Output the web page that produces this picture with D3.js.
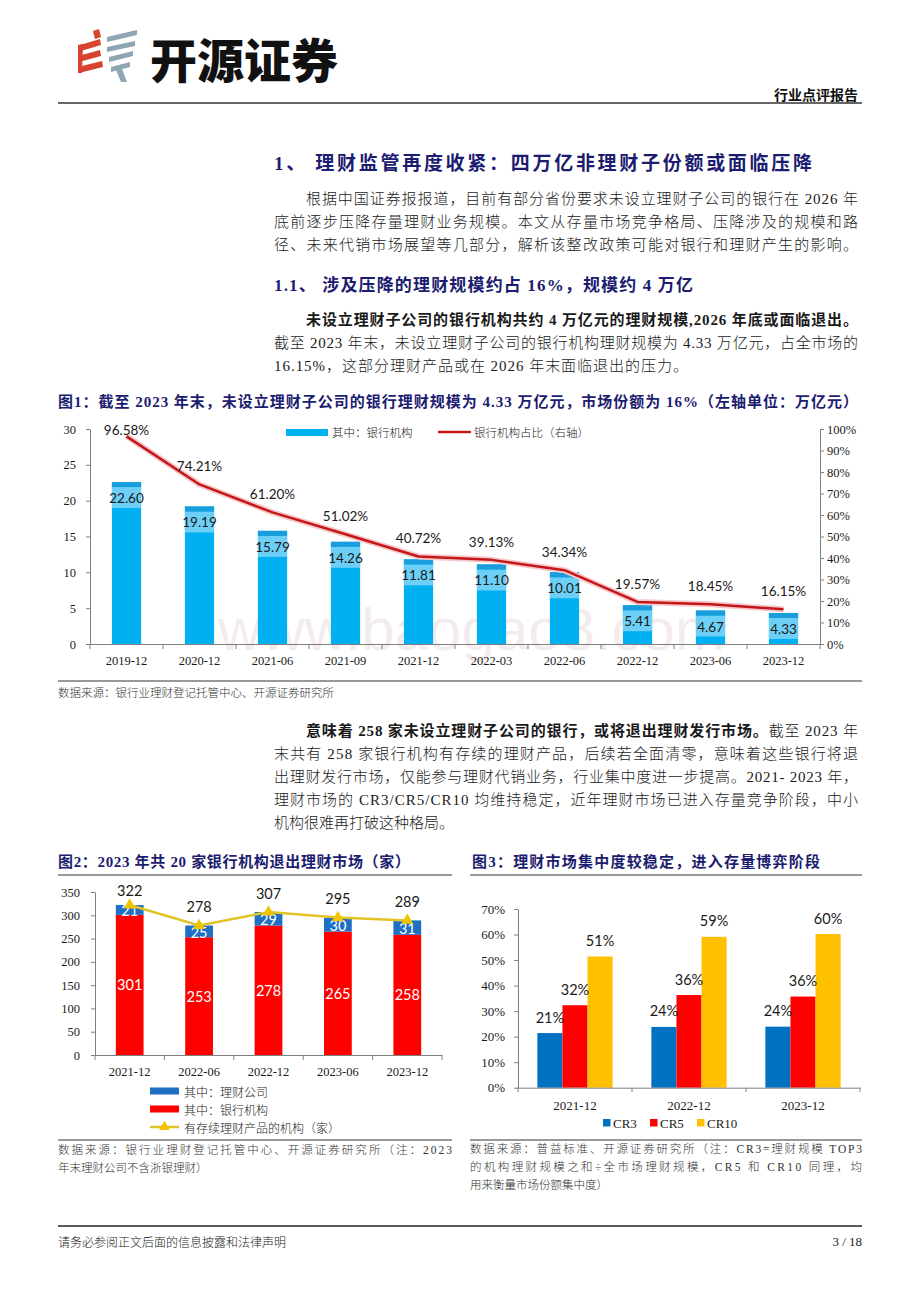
<!DOCTYPE html>
<html><head><meta charset="utf-8">
<script src="https://cdn.jsdelivr.net/npm/d3@7/dist/d3.min.js"></script>
<style>html,body{margin:0;padding:0;background:#fff;} svg{display:block}</style>
</head><body>
<svg id="page" width="920" height="1302"></svg>
<script>
// ---------------- DATA ----------------
const c1Categories = ["2019-12","2020-12","2021-06","2021-09","2021-12","2022-03","2022-06","2022-12","2023-06","2023-12"];
const c1BankScale = [22.60,19.19,15.79,14.26,11.81,11.10,10.01,5.41,4.67,4.33];
const c1BankShare = [96.58,74.21,61.20,51.02,40.72,39.13,34.34,19.57,18.45,16.15];
const c1LeftTicks = [0,5,10,15,20,25,30];
const c1RightTicks = [0,10,20,30,40,50,60,70,80,90,100];
const c1Legend = ["其中：银行机构","银行机构占比（右轴）"];

const c2Categories = ["2021-12","2022-06","2022-12","2023-06","2023-12"];
const c2Banks = [301,253,278,265,258];
const c2Companies = [21,25,29,30,31];
const c2Totals = [322,278,307,295,289];
const c2Ticks = [0,50,100,150,200,250,300,350];
const c2Legend = ["其中：理财公司","其中：银行机构","有存续理财产品的机构（家）"];

const c3Categories = ["2021-12","2022-12","2023-12"];
const c3Series = ["CR3","CR5","CR10"];
const c3CR3 = [21.4,23.8,23.9];
const c3CR5 = [32.3,36.3,35.7];
const c3CR10 = [51.4,59.1,60.2];
const c3Ticks = [0,10,20,30,40,50,60,70];

// ---------------- STYLE ----------------
const SERIF = "'Liberation Serif','Noto Sans CJK SC',serif";
const CJK = "'Noto Sans CJK SC',sans-serif";
const LBL = "Lato,'Open Sans',sans-serif";
const NAVY = "#1c1c70";

const svg = d3.select("#page");

function txt(x, y, s, o = {}) {
  const t = svg.append("text").attr("x", x).attr("y", y).text(s)
    .attr("dominant-baseline", "central")
    .attr("font-family", o.family || SERIF)
    .attr("font-size", o.size || 15)
    .attr("font-weight", o.weight || 400)
    .attr("fill", o.fill || "#1a1a1a")
    .attr("text-anchor", o.anchor || "start");
  if (o.len) t.attr("textLength", o.len).attr("lengthAdjust", "spacing");
  return t;
}
function hline(x1, x2, y, color, w) {
  svg.append("line").attr("x1", x1).attr("x2", x2).attr("y1", y).attr("y2", y)
    .attr("stroke", color).attr("stroke-width", w);
}

// ---------------- HEADER ----------------
const logo = svg.append("g");
const red = [
  [[93,31],[99,29],[101,37],[95,39]],
  [[80,45],[100,39],[101,45],[81,51]],
  [[78,56],[100,50],[101,56],[79,62]],
  [[78,67],[102,61],[103,67],[79,73]],
  [[78,45],[83,44],[82,73],[78,73]]
];
const gray = [
  [[107,37],[137,30],[137,35],[107,42]],
  [[107,47],[135,41],[135,46],[107,52]],
  [[109,57],[133,51],[133,56],[109,62]],
  [[111,67],[130,62],[130,67],[111,72]],
  [[116,70],[122,69],[127,82],[121,82]]
];
logo.selectAll(".r").data(red).join("polygon").attr("points", d => d.join(" ")).attr("fill", "#d8432f");
logo.selectAll(".g").data(gray).join("polygon").attr("points", d => d.join(" ")).attr("fill", "#8ea5b4");
txt(150, 57, "开源证券", {family: CJK, size: 47, weight: 900, fill: "#111", len: 188});
txt(858, 94, "行业点评报告", {family: CJK, size: 14, weight: 700, anchor: "end", fill: "#111"});
hline(58, 862, 103, "#333", 1.5);

// ---------------- BODY TEXT ----------------
txt(274, 163, "1、 理财监管再度收紧：四万亿非理财子份额或面临压降", {family: SERIF, size: 19, weight: 700, fill: NAVY, len: 538});
txt(306, 199, "根据中国证券报报道，目前有部分省份要求未设立理财子公司的银行在 2026 年", {weight: 300, len: 552});
txt(274, 222, "底前逐步压降存量理财业务规模。本文从存量市场竞争格局、压降涉及的规模和路", {weight: 300, len: 584});
txt(274, 245, "径、未来代销市场展望等几部分，解析该整改政策可能对银行和理财产生的影响。", {weight: 300, len: 584});
txt(274, 285, "1.1、 涉及压降的理财规模约占 16%，规模约 4 万亿", {size: 17, weight: 700, fill: NAVY, len: 419});
txt(306, 320, "未设立理财子公司的银行机构共约 4 万亿元的理财规模,2026 年底或面临退出。", {weight: 700, len: 552});
txt(274, 343, "截至 2023 年末，未设立理财子公司的银行机构理财规模为 4.33 万亿元，占全市场的", {weight: 300, len: 584});
txt(274, 366, "16.15%，这部分理财产品或在 2026 年末面临退出的压力。", {weight: 300, len: 414});

// P3
const p3 = txt(306, 731, "", {len: 552});
p3.append("tspan").attr("font-weight", 700).text("意味着 258 家未设立理财子公司的银行，或将退出理财发行市场。");
p3.append("tspan").attr("font-weight", 300).text("截至 2023 年");
txt(274, 754, "末共有 258 家银行机构有存续的理财产品，后续若全面清零，意味着这些银行将退", {weight: 300, len: 584});
txt(274, 777, "出理财发行市场，仅能参与理财代销业务，行业集中度进一步提高。2021- 2023 年，", {weight: 300, len: 584});
txt(274, 800, "理财市场的 CR3/CR5/CR10 均维持稳定，近年理财市场已进入存量竞争阶段，中小", {weight: 300, len: 584});
txt(274, 823, "机构很难再打破这种格局。", {weight: 300});

// ---------------- CHART 1 ----------------
txt(58, 402, "图1：截至 2023 年末，未设立理财子公司的银行理财规模为 4.33 万亿元，市场份额为 16%（左轴单位：万亿元）", {size: 15, weight: 700, fill: NAVY, len: 800});
hline(58, 862, 681, "#999", 2);
txt(58, 692, "数据来源：银行业理财登记托管中心、开源证券研究所", {family: CJK, size: 11.5, weight: 300, fill: "#333"});

// watermark (behind labels, drawn first)
svg.append("text").attr("x", 218).attr("y", 650).attr("font-family", "'Liberation Sans',Arial,sans-serif")
  .attr("font-size", 60).attr("fill", "rgba(170,110,110,0.13)").text("www.baogao8.com");

const g1 = svg.append("g");
const x1 = d3.scaleBand().domain(c1Categories).range([90, 820]).paddingInner(0.6).paddingOuter(0.3);
const yL = d3.scaleLinear().domain([0, 30]).range([644, 429]);
const yR = d3.scaleLinear().domain([0, 100]).range([644, 429]);
const c1 = c1Categories.map((c, i) => ({c, v: c1BankScale[i], p: c1BankShare[i]}));

// bars
const bars1 = g1.selectAll(".b1").data(c1).join("g");
bars1.append("rect").attr("x", d => x1(d.c)).attr("width", x1.bandwidth())
  .attr("y", d => yL(d.v)).attr("height", d => yL(0) - yL(d.v)).attr("fill", "#00b0f0");
bars1.append("rect").attr("x", d => x1(d.c)).attr("width", x1.bandwidth())
  .attr("y", d => yL(d.v) + 5).attr("height", 21).attr("fill", "#6dcff5");
bars1.append("rect").attr("x", d => x1(d.c)).attr("width", x1.bandwidth())
  .attr("y", d => yL(d.v)).attr("height", 5).attr("fill", "#1a9ddd");
bars1.append("text").attr("x", d => x1(d.c) + x1.bandwidth() / 2).attr("y", d => yL(d.v) + 16)
  .attr("text-anchor", "middle").attr("dominant-baseline", "central")
  .attr("font-family", LBL).attr("font-size", 13.5).attr("fill", "#1a1a1a")
  .text(d => d.v.toFixed(2));

// line
const line1 = d3.line().x(d => x1(d.c) + x1.bandwidth() / 2).y(d => yR(d.p));
g1.append("path").datum(c1).attr("d", line1).attr("fill", "none").attr("stroke", "#f6c8cc").attr("stroke-width", 6).attr("stroke-linejoin", "round");
g1.append("path").datum(c1).attr("d", line1).attr("fill", "none").attr("stroke", "#c41818").attr("stroke-width", 2.5).attr("stroke-linejoin", "round");
g1.selectAll(".pl").data(c1).join("text")
  .attr("x", d => x1(d.c) + x1.bandwidth() / 2).attr("y", d => Math.max(yR(d.p) - 18, 430))
  .attr("text-anchor", "middle").attr("dominant-baseline", "central")
  .attr("font-family", LBL).attr("font-size", 13.5).attr("fill", "#1a1a1a")
  .text(d => d.p.toFixed(2) + "%");

// axes
function styleAxis(sel, size) {
  sel.selectAll("path,line").attr("stroke", "#7f7f7f");
  sel.selectAll("text").attr("font-family", SERIF).attr("font-size", size).attr("fill", "#1a1a1a");
}
g1.append("g").attr("transform", "translate(90,0)")
  .call(d3.axisLeft(yL).tickValues(c1LeftTicks).tickSize(4).tickSizeOuter(0).tickPadding(10))
  .call(s => styleAxis(s, 12.5));
g1.append("g").attr("transform", "translate(820,0)")
  .call(d3.axisRight(yR).tickValues(c1RightTicks).tickSize(4).tickSizeOuter(0).tickPadding(3).tickFormat(d => d + "%"))
  .call(s => styleAxis(s, 12.5));
g1.append("g").attr("transform", "translate(0,644)")
  .call(d3.axisBottom(x1).tickSize(0).tickSizeOuter(0).tickPadding(12))
  .call(s => styleAxis(s, 12.5));
const b1 = c1Categories.map(c => x1(c) - x1.step() * x1.paddingInner() / 2).concat([820]);
g1.selectAll(".bt").data(b1).join("line").attr("x1", d => d).attr("x2", d => d)
  .attr("y1", 644).attr("y2", 649).attr("stroke", "#7f7f7f");

// legend
g1.append("rect").attr("x", 286).attr("y", 429).attr("width", 42).attr("height", 7).attr("fill", "#00b0f0");
g1.append("text").attr("x", 332).attr("y", 432).attr("dominant-baseline", "central").attr("font-family", CJK).attr("font-weight", 300).attr("font-size", 11.5).attr("fill", "#1a1a1a").text(c1Legend[0]);
g1.append("line").attr("x1", 438).attr("x2", 471).attr("y1", 432).attr("y2", 432).attr("stroke", "#c41818").attr("stroke-width", 2.5);
g1.append("text").attr("x", 474).attr("y", 432).attr("dominant-baseline", "central").attr("font-family", CJK).attr("font-weight", 300).attr("font-size", 11.5).attr("fill", "#1a1a1a").text(c1Legend[1]);

// ---------------- CHART 2 ----------------
txt(58, 862, "图2：2023 年共 20 家银行机构退出理财市场（家）", {size: 15, weight: 700, fill: NAVY, len: 352});
hline(58, 452, 875, "#999", 2);
const g2 = svg.append("g");
const x2 = d3.scaleBand().domain(c2Categories).range([95, 442]).paddingInner(0.6).paddingOuter(0.3);
const y2 = d3.scaleLinear().domain([0, 350]).range([1055, 892]);
const c2 = c2Categories.map((c, i) => ({c, b: c2Banks[i], f: c2Companies[i], t: c2Totals[i]}));
g2.selectAll(".rb").data(c2).join("rect").attr("x", d => x2(d.c)).attr("width", x2.bandwidth())
  .attr("y", d => y2(d.b)).attr("height", d => y2(0) - y2(d.b)).attr("fill", "#ff0000");
g2.selectAll(".bb").data(c2).join("rect").attr("x", d => x2(d.c)).attr("width", x2.bandwidth())
  .attr("y", d => y2(d.b + d.f)).attr("height", d => y2(d.b) - y2(d.b + d.f)).attr("fill", "#1f6fc5");
g2.selectAll(".rl").data(c2).join("text").attr("x", d => x2(d.c) + x2.bandwidth() / 2)
  .attr("y", d => (y2(0) + y2(d.b)) / 2).attr("text-anchor", "middle").attr("dominant-baseline", "central")
  .attr("font-family", LBL).attr("font-size", 14.5).attr("fill", "#fff").text(d => d.b);
g2.selectAll(".bl").data(c2).join("text").attr("x", d => x2(d.c) + x2.bandwidth() / 2)
  .attr("y", d => (y2(d.b) + y2(d.b + d.f)) / 2 + 1).attr("text-anchor", "middle").attr("dominant-baseline", "central")
  .attr("font-family", LBL).attr("font-size", 14.5).attr("fill", "#fff").text(d => d.f);
const line2 = d3.line().x(d => x2(d.c) + x2.bandwidth() / 2).y(d => y2(d.t));
g2.append("path").datum(c2).attr("d", line2).attr("fill", "none").attr("stroke", "#e0c423").attr("stroke-width", 2.5);
g2.selectAll(".mk").data(c2).join("path").attr("d", d3.symbol(d3.symbolTriangle, 60))
  .attr("transform", d => `translate(${x2(d.c) + x2.bandwidth() / 2},${y2(d.t)})`).attr("fill", "#f2c400");
g2.selectAll(".tl").data(c2).join("text").attr("x", d => x2(d.c) + x2.bandwidth() / 2)
  .attr("y", d => Math.max(y2(d.t) - 19, 890)).attr("text-anchor", "middle").attr("dominant-baseline", "central")
  .attr("font-family", LBL).attr("font-size", 14.5).attr("fill", "#1a1a1a").text(d => d.t);
g2.append("g").attr("transform", "translate(95,0)")
  .call(d3.axisLeft(y2).tickValues(c2Ticks).tickSize(4).tickSizeOuter(0).tickPadding(11))
  .call(s => styleAxis(s, 12.5));
g2.append("g").attr("transform", "translate(0,1055)")
  .call(d3.axisBottom(x2).tickSize(0).tickSizeOuter(0).tickPadding(12))
  .call(s => styleAxis(s, 12.5));
const b2 = c2Categories.map(c => x2(c) - x2.step() * x2.paddingInner() / 2).concat([442]);
g2.selectAll(".bt").data(b2).join("line").attr("x1", d => d).attr("x2", d => d)
  .attr("y1", 1055).attr("y2", 1060).attr("stroke", "#7f7f7f");
// legend
const leg2Y = [1091, 1109, 1127];
const leg2Col = ["#1f6fc5", "#ff0000"];
[0, 1].forEach(i => {
  g2.append("rect").attr("x", 150).attr("y", leg2Y[i] - 3.5).attr("width", 29).attr("height", 7).attr("fill", leg2Col[i]);
});
g2.append("line").attr("x1", 150).attr("x2", 179).attr("y1", leg2Y[2]).attr("y2", leg2Y[2]).attr("stroke", "#e0c423").attr("stroke-width", 2.5);
g2.append("path").attr("d", d3.symbol(d3.symbolTriangle, 50)).attr("transform", `translate(164.5,${leg2Y[2]})`).attr("fill", "#f2c400");
c2Legend.forEach((s, i) => {
  g2.append("text").attr("x", 184).attr("y", leg2Y[i]).attr("dominant-baseline", "central").attr("font-family", CJK)
    .attr("font-weight", 300).attr("font-size", 12).attr("fill", "#1a1a1a").text(s);
});
hline(58, 452, 1140, "#999", 2);
txt(58, 1150, "数据来源：银行业理财登记托管中心、开源证券研究所（注：2023", {family: SERIF, size: 11.5, weight: 300, fill: "#333", len: 394});
txt(58, 1168, "年末理财公司不含浙银理财）", {family: SERIF, size: 11.5, weight: 300, fill: "#333"});

// ---------------- CHART 3 ----------------
txt(472, 862, "图3：理财市场集中度较稳定，进入存量博弈阶段", {size: 15, weight: 700, fill: NAVY, len: 348});
hline(470, 862, 875, "#999", 2);
const g3 = svg.append("g");
const x3 = d3.scaleBand().domain(c3Categories).range([518, 860]).paddingInner(0.34).paddingOuter(0.17);
const x3s = d3.scaleBand().domain(c3Series).range([0, x3.bandwidth()]);
const y3 = d3.scaleLinear().domain([0, 70]).range([1087.7, 909]);
const c3Vals = [c3CR3, c3CR5, c3CR10];
const c3Col = {CR3: "#0070c0", CR5: "#ff0000", CR10: "#ffc000"};
const c3 = [];
c3Categories.forEach((c, i) => c3Series.forEach((s, j) => c3.push({c, s, v: c3Vals[j][i]})));
g3.selectAll(".b3").data(c3).join("rect").attr("x", d => x3(d.c) + x3s(d.s)).attr("width", x3s.bandwidth())
  .attr("y", d => y3(d.v)).attr("height", d => y3(0) - y3(d.v)).attr("fill", d => c3Col[d.s]);
g3.selectAll(".l3").data(c3).join("text").attr("x", d => x3(d.c) + x3s(d.s) + x3s.bandwidth() / 2)
  .attr("y", d => y3(d.v) - 16).attr("text-anchor", "middle").attr("dominant-baseline", "central")
  .attr("font-family", LBL).attr("font-size", 14.5).attr("fill", "#1a1a1a").text(d => Math.round(d.v) + "%");
g3.append("g").attr("transform", "translate(518,0)")
  .call(d3.axisLeft(y3).tickValues(c3Ticks).tickSize(4).tickSizeOuter(0).tickPadding(9).tickFormat(d => d + "%"))
  .call(s => styleAxis(s, 13));
g3.append("g").attr("transform", "translate(0,1087.7)")
  .call(d3.axisBottom(x3).tickSize(0).tickSizeOuter(0).tickPadding(13))
  .call(s => styleAxis(s, 13));
const b3 = c3Categories.map(c => x3(c) - x3.step() * x3.paddingInner() / 2).concat([860]);
g3.selectAll(".bt").data(b3).join("line").attr("x1", d => d).attr("x2", d => d)
  .attr("y1", 1087.7).attr("y2", 1092).attr("stroke", "#7f7f7f");
const leg3X = [603, 650, 697];
c3Series.forEach((s, i) => {
  g3.append("rect").attr("x", leg3X[i]).attr("y", 1119).attr("width", 7.5).attr("height", 7.5).attr("fill", c3Col[s]);
  g3.append("text").attr("x", leg3X[i] + 10).attr("y", 1123).attr("dominant-baseline", "central")
    .attr("font-family", SERIF).attr("font-size", 13).attr("fill", "#1a1a1a").text(s);
});
hline(470, 862, 1140, "#999", 2);
txt(470, 1149, "数据来源：普益标准、开源证券研究所（注：CR3=理财规模 TOP3", {size: 11.5, weight: 300, fill: "#333", len: 392});
txt(470, 1167, "的机构理财规模之和÷全市场理财规模，CR5 和 CR10 同理，均", {size: 11.5, weight: 300, fill: "#333", len: 392});
txt(470, 1185, "用来衡量市场份额集中度）", {size: 11.5, weight: 300, fill: "#333"});

// ---------------- FOOTER ----------------
hline(58, 862, 1226, "#222", 1.5);
txt(58, 1241, "请务必参阅正文后面的信息披露和法律声明", {family: CJK, size: 12, weight: 300, fill: "#222"});
txt(862, 1241, "3 / 18", {size: 13, anchor: "end", fill: "#222"});
</script>
</body></html>
